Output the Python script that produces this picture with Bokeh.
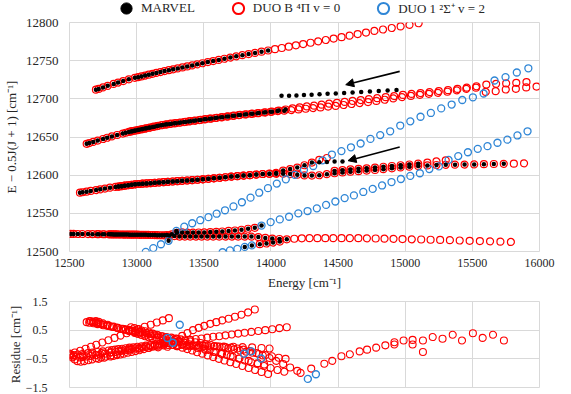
from bokeh.plotting import figure
from bokeh.layouts import column
from bokeh.models import Range1d, FixedTicker, Legend, LegendItem, Arrow, NormalHead
from bokeh.embed import file_html
from bokeh.resources import INLINE

FONT = "Liberation Serif"
RED = "#FF0000"
BLUE = "#2F86D6"
GRID = "#D9D9D9"
TXT = "#262626"

# ---------------- top panel data (DUO B 4Pi v=0, red) ----------------
r1_x = [12697, 12717, 12750, 12785, 12829, 12862, 12900, 12942, 12987, 13011, 13036, 13063, 13090, 13118, 13147, 13177, 13208, 13240, 13272, 13306, 13341, 13377, 13414, 13451, 13490, 13530, 13570, 13612, 13654, 13698, 13742, 13788, 13834, 13882, 13930, 13979, 14030, 14081, 14133, 14186, 14240, 14295, 14352, 14409, 14467, 14526, 14586, 14646, 14708, 14771, 14835, 14900, 14966, 15032, 15100]
r1_y = [12712, 12713, 12715, 12717, 12719.5, 12721.3, 12723.3, 12725.6, 12727.5, 12728.4, 12729.4, 12730.5, 12731.6, 12732.7, 12733.9, 12735.1, 12736.3, 12737.5, 12738.6, 12739.9, 12741.2, 12742.5, 12743.8, 12745.2, 12746.6, 12748.1, 12749.5, 12751, 12752.5, 12754.1, 12755.7, 12757.2, 12758.7, 12760.2, 12761.8, 12763.3, 12765, 12766.6, 12768.3, 12770.1, 12771.8, 12773.5, 12775.3, 12777.1, 12779, 12780.8, 12782.8, 12784.8, 12786.8, 12788.9, 12790.8, 12792.8, 12794.9, 12796.9, 12799]

r2a_x = [12628, 12647, 12677, 12710, 12750, 12781, 12816, 12855, 12897, 12919, 12943, 12967, 12992, 13018, 13045, 13072, 13101, 13131, 13161, 13193, 13225, 13258, 13292, 13327, 13363, 13400, 13437, 13476, 13515, 13555, 13597, 13639, 13682, 13726, 13770, 13816, 13863, 13910, 13959, 14008, 14058, 14109, 14161, 14214, 14268, 14322, 14378, 14434, 14492, 14550, 14609, 14669, 14730, 14792, 14855, 14918, 14983, 15048, 15114, 15182, 15250, 15319, 15389, 15459, 15531, 15604, 15677, 15752, 15827, 15903]
r2a_y = [12641, 12642, 12643.6, 12645.3, 12647.4, 12649, 12650.7, 12652.6, 12654.5, 12655.6, 12656.7, 12657.6, 12658.5, 12659.4, 12660.4, 12661.4, 12662.4, 12663.5, 12664.6, 12665.7, 12666.6, 12667.4, 12668.1, 12669, 12669.8, 12670.7, 12671.5, 12672.4, 12673.3, 12674.2, 12675.1, 12676, 12677, 12678, 12678.9, 12679.7, 12680.5, 12681.4, 12682.3, 12683.2, 12684.6, 12686, 12687.4, 12688.8, 12690, 12691.1, 12692.4, 12693.6, 12694.8, 12696, 12697.2, 12698.4, 12699.6, 12700.8, 12702.2, 12703.6, 12705.1, 12706.4, 12707.6, 12708.8, 12710.1, 12711.4, 12713, 12714.6, 12716.5, 12718.7, 12719.6, 12720.2, 12721, 12722]

r2b_x = [12958, 12983, 13009, 13036, 13063, 13092, 13121, 13152, 13183, 13215, 13248, 13282, 13317, 13353, 13389, 13427, 13466, 13505, 13545, 13586, 13629, 13672, 13716, 13760, 13806, 13853, 13900, 13949, 13998, 14049, 14100, 14152, 14205, 14259, 14314, 14369, 14426, 14483, 14542, 14601, 14661, 14723, 14785, 14848, 14912, 14976, 15042, 15109, 15176, 15244, 15314, 15384, 15455, 15527, 15600, 15674, 15749, 15824, 15901, 15978]
r2b_y = [12657.3, 12658.2, 12659.1, 12660.1, 12661.1, 12662.1, 12663.2, 12664.3, 12665.4, 12666.3, 12667.1, 12667.9, 12668.7, 12669.6, 12670.4, 12671.3, 12672.2, 12673.1, 12674, 12674.9, 12675.8, 12676.8, 12677.7, 12678.7, 12679.5, 12680.4, 12681.2, 12682.1, 12683, 12684, 12684.5, 12685.3, 12686.1, 12687, 12687.9, 12688.8, 12689.8, 12690.7, 12691.9, 12693.2, 12694.5, 12695.8, 12697.2, 12698.8, 12700.6, 12702.3, 12703.8, 12705.2, 12706.5, 12707.9, 12709.3, 12711.2, 12713.1, 12714.6, 12709, 12710, 12712.2, 12713.1, 12715, 12716]

r3a_x = [12578, 12597, 12627, 12658, 12698, 12729, 12764, 12802, 12843, 12865, 12888, 12912, 12937, 12963, 12989, 13017, 13045, 13074, 13104, 13135, 13167, 13200, 13233, 13268, 13303, 13339, 13376, 13414, 13453, 13493, 13534, 13575, 13618, 13661, 13705, 13750, 13796, 13843, 13891, 13939, 13989, 14039, 14091, 14143, 14196, 14250, 14305, 14360, 14417, 14474, 14533, 14592, 14652, 14713, 14775, 14838, 14901, 14966, 15031, 15097, 15165, 15233, 15302, 15371, 15442, 15514, 15586, 15660, 15734, 15809, 15885]
r3a_y = [12577, 12577.6, 12578.4, 12579.3, 12580.5, 12581.4, 12582.4, 12583.6, 12584.6, 12585.1, 12585.6, 12586.2, 12586.8, 12587.4, 12588, 12588.4, 12588.8, 12589.2, 12589.5, 12590, 12590.4, 12590.8, 12591.3, 12591.7, 12592.1, 12592.6, 12593, 12593.5, 12594, 12594.5, 12595.2, 12595.9, 12596.6, 12597.3, 12598.1, 12598.7, 12599.4, 12600, 12600.8, 12601.5, 12601.7, 12601.8, 12602, 12601.4, 12600.6, 12599.7, 12599.5, 12599.9, 12601.3, 12602.5, 12603.6, 12604.6, 12605.2, 12606, 12606.8, 12607.9, 12609, 12610.1, 12611.1, 12612.1, 12612.8, 12613.3, 12613.6, 12613.7, 12613.9, 12614.1, 12614.4, 12614.6, 12614.8, 12615.1, 12615.5]

r3b_x = [12865, 12888, 12912, 12937, 12963, 12989, 13017, 13045, 13074, 13104, 13135, 13167, 13200, 13233, 13268, 13303, 13339, 13376, 13414, 13453, 13493, 13534, 13575, 13618, 13661, 13705, 13750, 13796, 13843, 13891, 13939, 13989, 14039, 14091, 14143, 14196, 14250, 14305, 14360, 14417, 14474, 14533, 14592, 14652, 14713, 14775, 14838, 14901, 14966, 15031, 15097, 15165, 15233, 15302]
r3b_y = [12585.1, 12585.6, 12586.2, 12586.8, 12587.4, 12588, 12588.4, 12588.8, 12589.2, 12589.5, 12590, 12590.4, 12590.8, 12591.3, 12591.7, 12592.1, 12592.6, 12593, 12593.5, 12594, 12594.5, 12595.2, 12595.9, 12596.6, 12597.3, 12598.1, 12598.7, 12599.4, 12600, 12600.8, 12601.5, 12602, 12603, 12606, 12608, 12610, 12613, 12616.5, 12620, 12622.5, 12605.5, 12606.5, 12607.5, 12608.3, 12609, 12610, 12611, 12612, 12613, 12614, 12615, 12616.3, 12618, 12619.5]

r4a_x = [12717, 12759, 12804, 12828, 12853, 12878, 12905, 12933, 12962, 12991, 13022, 13053, 13086, 13119, 13153, 13189, 13225, 13262, 13300, 13339, 13379, 13420, 13462, 13504, 13548, 13593, 13638, 13685, 13732, 13781, 13830, 13880]
r4a_y = [12522.7, 12522.6, 12522.5, 12522.4, 12522.4, 12522.3, 12522.2, 12522.2, 12522.1, 12522, 12521.9, 12521.8, 12521.7, 12521.6, 12521.4, 12521.3, 12521.5, 12522.5, 12524.5, 12525, 12524.8, 12524.8, 12524.9, 12525, 12525.4, 12525.8, 12526.2, 12526.9, 12527.5, 12528.5, 12529.8, 12531]

r4b_x = [12510, 12530, 12562, 12596, 12638, 12671, 12707, 12748, 12792, 12816, 12840, 12865, 12892, 12919, 12947, 12976, 13006, 13037, 13069, 13102, 13136, 13171, 13207, 13243, 13281, 13319, 13359, 13399, 13441, 13483, 13526, 13570, 13615, 13662, 13709, 13756, 13805, 13855, 13906, 13958, 14010, 14064, 14118, 14174, 14230, 14288, 14346, 14405, 14465, 14526, 14588, 14651, 14715, 14780, 14846, 14913, 14980, 15049, 15119, 15189, 15260, 15333, 15406, 15480, 15556, 15632, 15709, 15787]
r4b_y = [12523, 12523, 12522.9, 12522.9, 12522.8, 12522.7, 12522.7, 12522.6, 12522.5,
         12522.5, 12522.4, 12522.3, 12522.3, 12522.2, 12522.1, 12522.1, 12522, 12521.9, 12521.8,
         12521.6, 12521.5, 12521.3, 12521.2, 12521, 12520.2,
         12519.6, 12519.6, 12519.6, 12519.6, 12519.6, 12519.6, 12519.6, 12519.6, 12519.6, 12519.6, 12519.6, 12519.6,
         12519.5, 12518.9, 12517.8, 12516.9, 12516.4, 12516, 12516.7, 12517.2,
         12517.5, 12517.5, 12517.5, 12517.5, 12517.5, 12517.5,
         12517.4, 12517.2, 12517, 12516.8, 12516.6, 12516.3, 12516, 12515.7, 12515.4, 12515.2, 12514.9,
         12514.4, 12514, 12513.6, 12513.3, 12512.9, 12512.5]

r4c_x = [13917, 13967, 14016, 14066]
r4c_y = [12509.6, 12510.5, 12511.7, 12513]

# ---------------- top panel data (DUO 1 2Sigma+ v=2, blue) ----------------
b1_x = [13068, 13124, 13181, 13238, 13296, 13355, 13414, 13474, 13535, 13596, 13658, 13721, 13784, 13848, 13913, 13978, 14044, 14111, 14178, 14246, 14315, 14384, 14454, 14525, 14596, 14668, 14741, 14814, 14888, 14963, 15038, 15114, 15191, 15268, 15346, 15425, 15504, 15584, 15665, 15747, 15831, 15917]
b1_y = [12499.5, 12504.5, 12509.5, 12514, 12527, 12532.5, 12537, 12541, 12545, 12549.5, 12554, 12559, 12564.5, 12570.5, 12577, 12583, 12589, 12594.5, 12600.5, 12607, 12612, 12619.5, 12627, 12631.5, 12636.5, 12641.5, 12647.5, 12652.5, 12657.5, 12665, 12670.5, 12676.5, 12681.5, 12687.5, 12692.5, 12698.5, 12702, 12707, 12724, 12728.5, 12734.5, 12740]

b2_x = [13640, 13695, 13750, 13805, 13858, 13930, 13998, 14066, 14135, 14204, 14273, 14342, 14411, 14480, 14549, 14618, 14688, 14758, 14828, 14898, 14968, 15038, 15109, 15180, 15251, 15323, 15395, 15467, 15540, 15613, 15687, 15761, 15836, 15911]
b2_y = [12499, 12501.5, 12503.5, 12506, 12508, 12534, 12538.5, 12542, 12545.5, 12550, 12553, 12556.5, 12561, 12565.5, 12570, 12573.5, 12578, 12582, 12586.5, 12591, 12595, 12599, 12602.5, 12608, 12611.5, 12620, 12625, 12630, 12634.5, 12638, 12642.5, 12646.5, 12652, 12657.5]

# ---------------- MARVEL levels without a DUO partner ----------------
k1_x = [14079, 14135, 14190, 14246, 14303, 14362, 14422, 14483, 14545, 14608, 14672, 14737, 14803, 14869, 14935]
k1_y = [12704, 12704, 12704.5, 12705, 12705.5, 12706, 12706.5, 12707, 12707.5, 12708.2, 12709, 12709.7, 12710.4, 12711, 12711.7]
k2_x = [14360, 14417, 14474, 14533]
k2_y = [12616.8, 12617.3, 12617.8, 12618]

# arrows (start x, start y, end x, end y)
arrow1 = [14959, 12736, 14557, 12718.5]
arrow2 = [14959, 12637, 14574, 12619]

# ---------------- residue panel data (MARVEL - DUO) ----------------
# residues of the matched progressions, at the MARVEL energies of the top panel
res_r1_y = [0.82, 0.79, 0.74, 0.69, 0.63, 0.58, 0.53, 0.47, 0.40, 0.37, 0.33, 0.29, 0.25, 0.21, 0.17, 0.13, 0.08, 0.04, -0.01, -0.06, -0.11, -0.16, -0.21, -0.27, -0.32, -0.38, -0.44, -0.50, -0.56, -0.62, -0.68, -0.75, -0.82, -0.89, -0.96, -1.03]
res_r2a_y = [0.78, 0.76, 0.74, 0.71, 0.67, 0.65, 0.62, 0.58, 0.55, 0.53, 0.51, 0.49, 0.47, 0.44, 0.42, 0.40, 0.37, 0.35, 0.32, 0.29, 0.26, 0.24, 0.21, 0.18, 0.14, 0.11, 0.08, 0.05, 0.01, -0.02, -0.06, -0.09, -0.13, -0.17, -0.21, -0.25, -0.29, -0.33, -0.37, -0.41, -0.46, -0.50]
res_r2b_y = [0.60, 0.57, 0.53, 0.49, 0.46, 0.42, 0.38, 0.34, 0.29, 0.25, 0.21, 0.16, 0.11, 0.06, 0.01, -0.04, -0.09, -0.15, -0.20, -0.26, -0.32, -0.37, -0.43, -0.49, -0.56, -0.62, -0.68, -0.75, -0.82, -0.89, -0.95]
res_r3a_y = [-0.45, -0.44, -0.42, -0.40, -0.37, -0.35, -0.32, -0.29, -0.26, -0.24, -0.22, -0.20, -0.18, -0.16, -0.14, -0.12, -0.10, -0.08, -0.06, -0.05, -0.04, -0.03, -0.02, -0.02, -0.02, -0.02, -0.02, -0.03, -0.03, -0.04, -0.05, -0.06, -0.07, -0.09, -0.11, -0.14, -0.18, -0.23, -0.30, -0.38, -0.47, -0.57, -0.68, -0.80, -0.92]
res_r4b_y = [-0.38, -0.37, -0.35, -0.33, -0.30, -0.28, -0.26, -0.24, -0.21, -0.19, -0.18, -0.16, -0.15, -0.13, -0.11, -0.10, -0.08, -0.06, -0.04, -0.02, 0.00, 0.02, 0.04, 0.07, 0.09, 0.11, 0.14, 0.16, 0.19, 0.21, 0.24, 0.27, 0.29, 0.32, 0.35, 0.38, 0.41, 0.44, 0.47, 0.50, 0.53, 0.57, 0.60]
res_r4a_y = [-0.50, -0.46, -0.42, -0.40, -0.37, -0.35, -0.32, -0.29, -0.26, -0.23, -0.20, -0.16, -0.12, -0.08, -0.04, 0.00, 0.05, 0.10, 0.20, 0.30, 0.40, 0.50, 0.58, 0.65, 0.72, 0.78, 0.84, 0.90, 0.97, 1.04, 1.12, 1.22]
# further residue branches read directly
res_c_x = [12500, 12540, 12580, 12620, 12660, 12700, 12745, 12790, 12835, 12880, 12925, 12970, 13015, 13060, 13105, 13150, 13195, 13240]
res_c_y = [-0.32, -0.28, -0.22, -0.15, -0.08, -0.01, 0.07, 0.15, 0.23, 0.31, 0.39, 0.47, 0.54, 0.62, 0.69, 0.77, 0.84, 0.92]
res_f_x = [12530, 12600, 12670, 12740, 12810, 12880, 12950, 13020, 13090, 13160, 13230, 13300, 13370, 13440, 13510, 13580, 13650, 13720, 13790, 13860, 13930, 13990]
res_f_y = [-0.42, -0.38, -0.34, -0.30, -0.26, -0.22, -0.18, -0.15, -0.12, -0.10, -0.08, -0.06, -0.05, -0.05, -0.05, -0.06, -0.07, -0.08, -0.09, -0.10, -0.12, -0.14]
res_g_x = [12505, 12520, 12540, 12560, 12585, 12610, 12640, 12670, 12700, 12735, 12770, 12810, 12850]
res_g_y = [-0.35, -0.45, -0.52, -0.58, -0.60, -0.58, -0.55, -0.52, -0.48, -0.45, -0.42, -0.38, -0.35]
res_i_x = [12650, 12660, 12672, 12685, 12700, 12716, 12734, 12754, 12776, 12800, 12826, 12854, 12884, 12916, 12950, 12986, 13024, 13064, 13106, 13150, 13196, 13244, 13294, 13346, 13400, 13456, 13514, 13574, 13636, 13700, 13766, 13834, 13902, 13950]
res_i_y = [0.82, 0.81, 0.79, 0.78, 0.76, 0.74, 0.72, 0.70, 0.67, 0.64, 0.61, 0.58, 0.55, 0.51, 0.47, 0.43, 0.39, 0.34, 0.29, 0.24, 0.18, 0.12, 0.07, 0.01, -0.06, -0.12, -0.19, -0.26, -0.33, -0.41, -0.49, -0.57, -0.65, -0.70]
res_h_x = [14221, 14300, 14398, 14457, 14525, 14588, 14661, 14716, 14784, 14852, 14920, 14920, 14988, 15055, 15055, 15132, 15132, 15205, 15278, 15354, 15423, 15504, 15577, 15654, 15735]
res_h_y = [-0.99, -0.84, -0.67, -0.57, -0.41, -0.34, -0.24, -0.18, -0.11, -0.03, 0.08, 0.00, 0.14, 0.16, 0.00, 0.14, -0.26, 0.26, 0.20, 0.34, 0.14, 0.39, 0.23, 0.34, 0.14]
res_blue_x = [13229, 13269, 13321, 13800, 13854, 13927, 14275, 14335]
res_blue_y = [0.23, 0.06, 0.69, -0.32, -0.24, -0.49, -1.20, -1.04]

x_ticks = [12500, 13000, 13500, 14000, 14500, 15000, 15500, 16000]
y_ticks = [12500, 12550, 12600, 12650, 12700, 12750, 12800]
res_ticks = [-1.5, -0.5, 0.5, 1.5]


def pair(xs, ys):
    n = min(len(xs), len(ys))
    return list(xs[:n]), list(ys[:n])


def style_axes(fig):
    fig.outline_line_color = GRID
    fig.outline_line_width = 1
    for ax in (fig.xaxis[0], fig.yaxis[0]):
        ax.axis_line_color = None
        ax.major_tick_line_color = None
        ax.minor_tick_line_color = None
        ax.major_tick_out = 0
        ax.major_tick_in = 0
        ax.minor_tick_out = 0
        ax.minor_tick_in = 0
        ax.major_label_text_font = FONT
        ax.major_label_text_color = TXT
        ax.axis_label_text_font = FONT
        ax.axis_label_text_font_style = "normal"
        ax.axis_label_text_color = TXT
    fig.xgrid.grid_line_color = GRID
    fig.ygrid.grid_line_color = GRID


W = 555
# ---------------- legend strip ----------------
L = figure(width=W, height=16, x_range=Range1d(0, 1), y_range=Range1d(0, 1),
           output_backend="svg", toolbar_location=None,
           min_border_left=69, min_border_right=16, min_border_top=0, min_border_bottom=0)
L.axis.visible = False
L.grid.visible = False
L.outline_line_color = None
# legend proxies: they hold one real level each, which lies outside this strip's range
lm = L.scatter(r1_x[:1], r1_y[:1], marker="circle", size=10, fill_color="black", line_color="black")
lr = L.scatter(r1_x[:1], r1_y[:1], marker="circle", size=10, fill_color=None, line_color=RED, line_width=2)
lb = L.scatter(b1_x[:1], b1_y[:1], marker="circle", size=10, fill_color=None, line_color=BLUE, line_width=2)
legend = Legend(items=[LegendItem(label="MARVEL", renderers=[lm]),
                       LegendItem(label="DUO B \u2074\u03a0 v = 0", renderers=[lr]),
                       LegendItem(label="DUO 1 \u00b2\u03a3\u207a v = 2", renderers=[lb])],
                orientation="horizontal", location=(43, -6),
                glyph_width=28, glyph_height=28, label_height=28, label_standoff=1, spacing=29,
                padding=0, margin=0, border_line_color=None, background_fill_alpha=0,
                label_text_font=FONT, label_text_font_size="13px", label_text_color=TXT)
L.add_layout(legend)

# ---------------- top figure ----------------
p = figure(width=W, height=278, x_range=Range1d(12500, 16000), y_range=Range1d(12500, 12800),
           output_backend="svg", toolbar_location=None,
           min_border_left=69, min_border_right=16, min_border_top=6, min_border_bottom=43)
style_axes(p)
p.xaxis.ticker = FixedTicker(ticks=x_ticks)
p.yaxis.ticker = FixedTicker(ticks=y_ticks)
p.xgrid.ticker = FixedTicker(ticks=x_ticks)
p.ygrid.ticker = FixedTicker(ticks=y_ticks)
p.xaxis.major_label_text_font_size = "12px"
p.yaxis.major_label_text_font_size = "13px"
p.xaxis.major_label_standoff = 7
p.yaxis.major_label_standoff = 11
p.xaxis.axis_label = "Energy [cm\u207b\u00b9]"
p.yaxis.axis_label = "E \u2212 0.5J(J + 1) [cm\u207b\u00b9]"
p.xaxis.axis_label_text_font_size = "13px"
p.yaxis.axis_label_text_font_size = "13px"
p.xaxis.axis_label_standoff = 5
p.yaxis.axis_label_standoff = 4

red_series = [(r4b_x, r4b_y), (r4a_x, r4a_y), (r4c_x, r4c_y), (r3a_x, r3a_y), (r3b_x, r3b_y),
              (r2a_x, r2a_y), (r2b_x, r2b_y), (r1_x, r1_y)]
for xs, ys in red_series:
    xx, yy = pair(xs, ys)
    p.scatter(xx, yy, marker="circle", size=7, fill_color=None, line_color=RED, line_width=1.2)

for xs, ys in [(b1_x, b1_y), (b2_x, b2_y)]:
    xx, yy = pair(xs, ys)
    p.scatter(xx, yy, marker="circle", size=7, fill_color=None, line_color=BLUE, line_width=1.3)

# MARVEL (observed) levels
m_x, m_y = [], []
for xs, ys, sl in [(r1_x, r1_y, slice(0, 36)), (r2a_x, r2a_y, slice(0, 42)), (r2b_x, r2b_y, slice(0, 31)),
                   (r3a_x, r3a_y, slice(0, 69)), (r3b_x, r3b_y, slice(0, 38)), (r3b_x, r3b_y, slice(40, 51)),
                   (r4b_x, r4b_y, slice(0, 43)), (r4a_x, r4a_y, slice(0, 32)), (r4c_x, r4c_y, slice(0, 4)),
                   (b1_x, b1_y, slice(3, 5)), (b2_x, b2_y, slice(3, 6)),
                   (k1_x, k1_y, slice(0, 15)), (k2_x, k2_y, slice(0, 4))]:
    xx, yy = pair(xs, ys)
    m_x += xx[sl]
    m_y += yy[sl]
p.scatter(m_x, m_y, marker="circle", size=4.5, fill_color="black", line_color="black", line_width=0)

for a in (arrow1, arrow2):
    p.add_layout(Arrow(end=NormalHead(size=8, fill_color="black", line_color="black", line_width=1),
                       x_start=a[0], y_start=a[1], x_end=a[2], y_end=a[3],
                       line_color="black", line_width=1.6))

# ---------------- residue figure ----------------
q = figure(width=W, height=99, x_range=Range1d(12500, 16000), y_range=Range1d(-1.5, 1.5),
           output_backend="svg", toolbar_location=None,
           min_border_left=69, min_border_right=16, min_border_top=7, min_border_bottom=6)
style_axes(q)
q.xaxis.visible = False
q.xgrid.ticker = FixedTicker(ticks=x_ticks)
q.yaxis.ticker = FixedTicker(ticks=res_ticks)
q.ygrid.ticker = FixedTicker(ticks=res_ticks)
q.yaxis.major_label_text_font_size = "12px"
q.yaxis.major_label_standoff = 22
q.yaxis.axis_label = "Residue [cm\u207b\u00b9]"
q.yaxis.axis_label_text_font_size = "13px"
q.yaxis.axis_label_standoff = 0

res_lines = [(res_g_x, res_g_y), (res_f_x, res_f_y), (res_c_x, res_c_y),
             (r4b_x[:43], res_r4b_y), (r3a_x[:45], res_r3a_y), (r4a_x, res_r4a_y),
             (r2a_x[:42], res_r2a_y), (r2b_x[:31], res_r2b_y), (r1_x[:36], res_r1_y),
             (res_i_x, res_i_y), (res_h_x, res_h_y)]
for xs, ys in res_lines:
    xx, yy = pair(xs, ys)
    q.scatter(xx, yy, marker="circle", size=7, fill_color=None, line_color=RED, line_width=1.1)
xx, yy = pair(res_blue_x, res_blue_y)
q.scatter(xx, yy, marker="circle", size=7, fill_color=None, line_color=BLUE, line_width=1.4)

layout = column(L, p, q)
open("out.html", "w").write(file_html(layout, INLINE))
